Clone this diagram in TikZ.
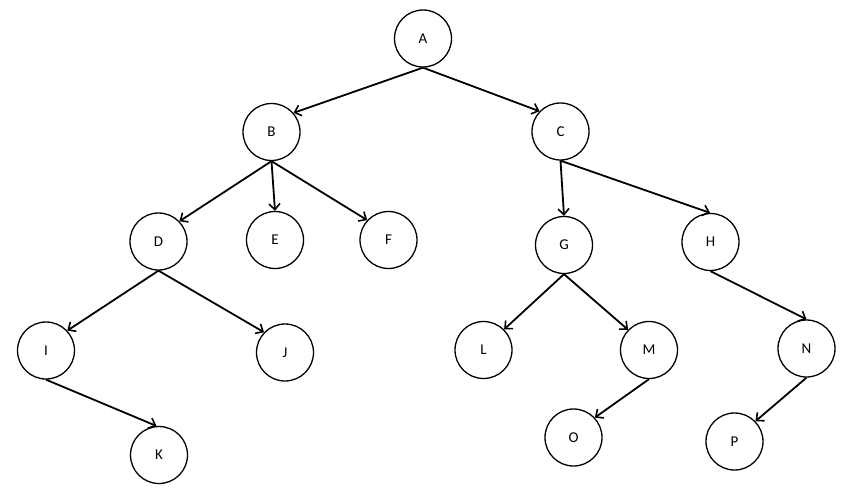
\documentclass[tikz,border=0pt]{standalone}
\usepackage{fontspec}
\setmainfont{Carlito}
\usetikzlibrary{arrows.meta}
\begin{document}
\begin{tikzpicture}[x=1pt,y=-1pt,
  vertex/.style={circle,draw,line width=1.3pt,minimum size=57pt,inner sep=0pt,font=\fontsize{15}{18}\selectfont},
  edge/.style={line width=1.8pt,-{Straight Barb[length=6pt,width=11pt,line width=1.6pt]}}]
\useasboundingbox (0,0) rectangle (843,498);
\node[vertex] (A) at (423,38.5) {A};
\node[vertex] (B) at (271.5,132) {B};
\node[vertex] (C) at (560.5,131.5) {C};
\node[vertex] (D) at (158.5,241.5) {D};
\node[vertex] (E) at (275,240) {E};
\node[vertex] (F) at (388.5,240) {F};
\node[vertex] (G) at (564,245) {G};
\node[vertex] (H) at (710.5,242) {H};
\node[vertex] (I) at (46,350.5) {I};
\node[vertex] (J) at (285,352.5) {J};
\node[vertex] (L) at (483.5,350) {L};
\node[vertex] (M) at (649,350) {M};
\node[vertex] (N) at (806.5,348.5) {N};
\node[vertex] (K) at (159,455) {K};
\node[vertex] (O) at (573.5,437.5) {O};
\node[vertex] (P) at (734.5,441.5) {P};
\draw[edge] (A.south) -- (B.41);
\draw[edge] (A.south) -- (C.136);
\draw[edge] (B.south) -- (D.44);
\draw[edge] (B.south) -- (E.90);
\draw[edge] (B.south) -- (F.137);
\draw[edge] (D.south) -- (I.43);
\draw[edge] (D.south) -- (J.136);
\draw[edge] (I.south) -- (K.95);
\draw[edge] (C.south) -- (G.90);
\draw[edge] (C.south) -- (H.91);
\draw[edge] (G.south) -- (L.45);
\draw[edge] (G.south) -- (M.136);
\draw[edge] (H.south) -- (N.90);
\draw[edge] (M.south) -- (O.43);
\draw[edge] (N.south) -- (P.44);
\end{tikzpicture}
\end{document}
